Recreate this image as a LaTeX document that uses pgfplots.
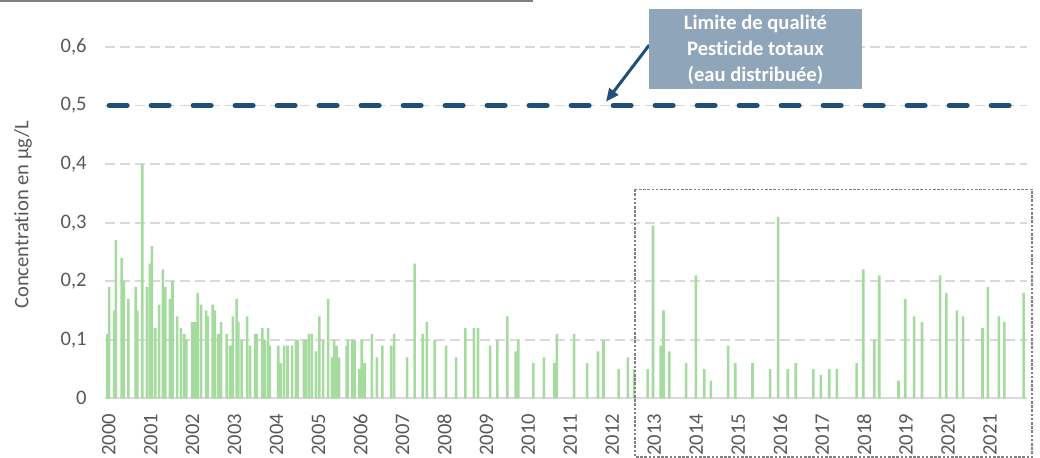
\documentclass[border=0pt]{standalone}
\usepackage{pgfplots}
\pgfplotsset{compat=1.18}
\usepackage{pgfplotstable}
\usetikzlibrary{arrows.meta}
\usepackage{fontspec}
\setmainfont[Ligatures={NoCommon}]{Carlito}
\definecolor{barg}{RGB}{166,219,160}
\definecolor{limblue}{RGB}{31,78,121}
\definecolor{boxblue}{RGB}{143,165,186}
\definecolor{tickgray}{RGB}{89,89,89}
\definecolor{gridgray}{RGB}{217,217,217}
\definecolor{framegray}{RGB}{128,128,128}

\pgfplotstableread{
date val
1999.97 0.11
2000.01 0.19
2000.13 0.15
2000.17 0.27
2000.31 0.24
2000.36 0.20
2000.47 0.17
2000.64 0.19
2000.68 0.15
2000.80 0.40
2000.91 0.19
2000.98 0.23
2001.03 0.26
2001.11 0.12
2001.20 0.16
2001.29 0.22
2001.35 0.19
2001.46 0.17
2001.52 0.20
2001.63 0.14
2001.72 0.12
2001.80 0.11
2001.85 0.10
2001.99 0.13
2002.06 0.13
2002.12 0.18
2002.20 0.16
2002.32 0.15
2002.36 0.14
2002.48 0.16
2002.53 0.15
2002.61 0.11
2002.68 0.13
2002.81 0.11
2002.89 0.09
2002.96 0.14
2003.05 0.17
2003.09 0.13
2003.17 0.10
2003.30 0.14
2003.37 0.09
2003.49 0.11
2003.53 0.11
2003.66 0.12
2003.72 0.10
2003.80 0.12
2003.84 0.09
2004.04 0.09
2004.10 0.06
2004.18 0.09
2004.26 0.09
2004.37 0.09
2004.46 0.10
2004.50 0.10
2004.65 0.10
2004.70 0.10
2004.77 0.11
2004.84 0.11
2004.94 0.08
2005.02 0.14
2005.11 0.10
2005.23 0.17
2005.32 0.07
2005.37 0.10
2005.43 0.09
2005.49 0.07
2005.67 0.09
2005.70 0.10
2005.81 0.10
2005.86 0.10
2005.97 0.05
2006.03 0.10
2006.10 0.06
2006.27 0.11
2006.39 0.07
2006.52 0.09
2006.73 0.09
2006.80 0.11
2007.11 0.07
2007.29 0.23
2007.48 0.11
2007.58 0.13
2007.77 0.10
2008.04 0.09
2008.28 0.07
2008.50 0.12
2008.70 0.12
2008.80 0.12
2009.09 0.09
2009.26 0.10
2009.50 0.14
2009.70 0.08
2009.76 0.10
2010.12 0.06
2010.37 0.07
2010.62 0.06
2010.68 0.11
2011.09 0.11
2011.40 0.06
2011.66 0.08
2011.79 0.10
2012.15 0.05
2012.37 0.07
2012.52 0.05
2012.84 0.05
2012.97 0.295
2013.15 0.09
2013.22 0.15
2013.36 0.08
2013.76 0.06
2013.99 0.21
2014.19 0.05
2014.35 0.03
2014.76 0.09
2014.93 0.06
2015.34 0.06
2015.76 0.05
2015.95 0.31
2016.18 0.05
2016.37 0.06
2016.79 0.05
2016.97 0.04
2017.17 0.05
2017.35 0.05
2017.82 0.06
2017.98 0.22
2018.24 0.10
2018.36 0.21
2018.82 0.03
2018.98 0.17
2019.19 0.14
2019.38 0.13
2019.81 0.21
2019.96 0.18
2020.21 0.15
2020.36 0.14
2020.82 0.12
2020.95 0.19
2021.21 0.14
2021.34 0.13
2021.80 0.18
}\mesures

\begin{document}
\begin{tikzpicture}[font=\fontsize{10.3bp}{12.5bp}\selectfont]
\useasboundingbox (0,0) rectangle (520bp,229bp);
\draw[framegray, line width=1.3bp] (0,228.4bp) -- (266.5bp,228.4bp);
\node[rotate=90, anchor=base, text=tickgray] at (14.2bp,121.5bp) {Concentration en µg/L};
\begin{axis}[
  at={(52.5bp,29.85bp)}, anchor=south west,
  scale only axis, width=461bp, height=175.65bp,
  xmin=1999.912, xmax=2021.881, ymin=0, ymax=0.6,
  clip=false,
  axis lines=left,
  x axis line style={draw=gridgray, line width=1.1bp, -},
  y axis line style={draw=none, -},
  major tick length=0pt,
  ymajorgrids,
  grid style={gridgray, line width=0.9bp, dash pattern=on 5bp off 2.5bp},
  ytick={0,0.1,0.2,0.3,0.4,0.5,0.6},
  yticklabels={0,{0,1},{0,2},{0,3},{0,4},{0,5},{0,6}},
  xtick={2000,2001,2002,2003,2004,2005,2006,2007,2008,2009,2010,2011,2012,2013,2014,2015,2016,2017,2018,2019,2020,2021},
  xticklabels={2000,2001,2002,2003,2004,2005,2006,2007,2008,2009,2010,2011,2012,2013,2014,2015,2016,2017,2018,2019,2020,2021},
  tick label style={text=tickgray},
  yticklabel style={anchor=east, inner xsep=9bp, inner ysep=0pt},
  xticklabel style={rotate=90, anchor=east, inner xsep=7.5bp, inner ysep=0pt},
]
\addplot[ybar, bar width=1.3bp, bar shift=0pt, fill=barg, draw=none] table[x=date, y=val] {\mesures};
\addplot[limblue, line width=2.5bp, line cap=round, dash pattern=on 9bp off 12bp] coordinates {(2000.01,0.5) (2021.881,0.5)};
\draw[framegray, line width=0.7bp, dash pattern=on 1.3bp off 0.8bp] (axis cs:2012.54,0.357) rectangle (axis cs:2022.0,-0.1003);
\draw[limblue, line width=1.5bp, -{Triangle[length=6.5bp,width=5.5bp]}] (axis cs:2012.88,0.6034) -- (axis cs:2011.85,0.5066);
\node[fill=boxblue, text=white, font=\fontsize{10.3bp}{13bp}\selectfont\bfseries, align=center, minimum width=106.2bp, minimum height=40bp, inner sep=0pt] at (axis cs:2015.41,0.596) {Limite de qualité\\Pesticide totaux\\(eau distribuée)};
\end{axis}
\end{tikzpicture}
\end{document}
